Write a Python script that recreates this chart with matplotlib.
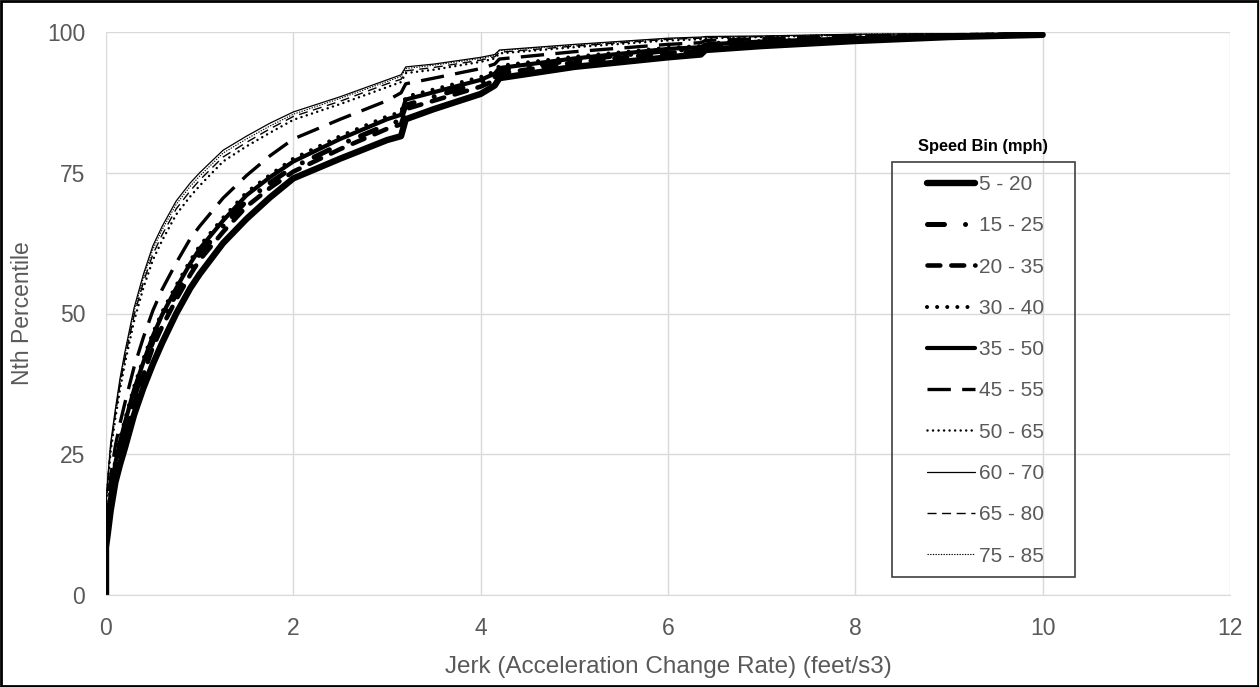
import matplotlib
matplotlib.use("Agg")
import matplotlib.pyplot as plt
from matplotlib.patches import Rectangle

plt.rcParams['font.family'] = ['Liberation Sans', 'DejaVu Sans']

# jerk values (feet/s3) at which the percentiles are read
jerk = [0, 0, 0.02, 0.05, 0.1, 0.15, 0.2, 0.3, 0.4, 0.5, 0.6, 0.75, 0.9, 1.0, 1.25, 1.5, 1.75,
        2.0, 2.5, 3.0, 3.15, 3.2, 3.5, 4.0, 4.15, 4.2, 5.0, 6.0, 6.35, 6.4, 7.0, 8.0, 9.0, 10.0]

pct_5_20 = [0, 8.5, 11, 15, 20, 23.2, 26, 32, 36.8, 41, 44.8, 50, 54.5, 57, 62.5, 66.8, 70.6,
            74, 77.5, 80.8, 81.5, 84.5, 86.3, 89, 90.5, 91.8, 93.8, 95.5, 96.0, 96.8, 97.5, 98.4, 99.1, 99.5]
pct_15_25 = [0, 10, 13.2, 17, 22, 25.8, 29, 35, 40.2, 45, 48.7, 53.5, 57.9, 60.5, 65.5, 70, 73.2,
             76, 80, 83.5, 84.3, 87, 88.5, 91, 92, 93.2, 95, 96.7, 97, 97.6, 98.1, 98.8, 99.3, 99.6]
pct_20_35 = [0, 9.5, 12.6, 16.5, 21.5, 25, 28, 34, 39.2, 44, 47.7, 52.5, 56.9, 59.5, 64.5, 69, 72.3,
             75.2, 79.2, 82.8, 83.6, 86.3, 87.8, 90.3, 91.4, 92.6, 94.6, 96.3, 96.6, 97.3, 97.9, 98.7, 99.2, 99.5]
pct_30_40 = [0, 11.5, 14.8, 19, 24, 27.8, 31, 37, 42, 46.5, 50.3, 55, 59.4, 62, 67, 71.5, 74.6,
             77.5, 81.5, 85, 85.8, 88.5, 89.8, 92, 93, 94, 95.6, 97.2, 97.5, 98, 98.4, 99, 99.4, 99.6]
pct_35_50 = [0, 10.5, 13.8, 18, 23.5, 27.2, 30.5, 36.5, 41.4, 46, 49.8, 54.5, 58.9, 61.5, 66.5, 71, 74.2,
             77, 81, 84.5, 85.3, 88, 89.3, 91.5, 92.6, 93.6, 95.3, 97, 97.3, 97.8, 98.3, 98.9, 99.3, 99.6]
pct_45_55 = [0, 12.5, 16.5, 21, 26.5, 30.5, 34, 40.5, 45.8, 50.5, 54.3, 59, 63.3, 65.5, 70.5, 74.5, 78,
             81, 84.5, 87.8, 89.2, 90.8, 91.8, 93.5, 94.3, 95.2, 96.5, 97.8, 98.1, 98.5, 98.8, 99.3, 99.5, 99.7]
pct_50_65 = [0, 15.1, 19.8, 25.6, 31.4, 36.6, 41.0, 48.7, 54.6, 59.5, 63.0, 67.6, 70.8, 72.7, 77.0, 79.7, 82.1,
             84.4, 87.2, 90.2, 91.1, 92.7, 93.3, 94.7, 95.3, 96.2, 97.3, 98.5, 98.7, 98.9, 99.1, 99.5, 99.6, 99.8]
pct_60_70 = [0, 16, 21, 27, 33, 38.5, 43, 51, 57, 62, 65.5, 70, 73.2, 75, 79, 81.5, 83.8,
             85.8, 88.5, 91.5, 92.4, 93.8, 94.3, 95.5, 96.0, 96.8, 97.8, 98.9, 99.1, 99.2, 99.3, 99.6, 99.7, 99.8]
pct_65_80 = [0, 15.5, 20.4, 26.2, 32.1, 37.4, 41.8, 49.7, 55.6, 60.5, 64.0, 68.6, 71.8, 73.7, 77.8, 80.4, 82.8,
             85.0, 87.7, 90.8, 91.6, 93.1, 93.7, 95.0, 95.6, 96.4, 97.5, 98.7, 98.9, 99.0, 99.2, 99.5, 99.7, 99.8]
pct_75_85 = [0, 15.8, 20.8, 26.6, 32.6, 38, 42.5, 50.4, 56.4, 61.4, 64.9, 69.4, 72.6, 74.4, 78.5, 81.0, 83.3,
             85.4, 88.2, 91.2, 92.1, 93.5, 94.1, 95.3, 95.8, 96.7, 97.7, 98.8, 99.0, 99.1, 99.2, 99.6, 99.7, 99.8]

bins = ['5 - 20', '15 - 25', '20 - 35', '30 - 40', '35 - 50',
        '45 - 55', '50 - 65', '60 - 70', '65 - 80', '75 - 85']
series = [pct_5_20, pct_15_25, pct_20_35, pct_30_40, pct_35_50,
          pct_45_55, pct_50_65, pct_60_70, pct_65_80, pct_75_85]

# (linewidth, dash pattern in units of linewidth, cap style)
styles = [
    (4.6, None, 'round'),
    (3.6, (0, (3.4, 4.2, 0.01, 2.6)), 'round'),
    (3.3, (0, (2.8, 2.4)), 'round'),
    (2.9, (0, (0.01, 2.5)), 'round'),
    (3.0, None, 'round'),
    (2.4, (0, (7.0, 3.4)), 'butt'),
    (1.8, (0, (0.01, 2.2)), 'round'),
    (0.9, None, 'butt'),
    (1.0, (0, (6.5, 4.0)), 'butt'),
    (0.8, (0, (1.2, 1.2)), 'butt'),
]

fig = plt.figure(figsize=(12.59, 6.87), dpi=100)
ax = fig.add_axes([106 / 1259, 1 - 595 / 687, 1124 / 1259, 563 / 687])

handles = []
for name, y, (lw, dash, cap) in zip(bins, series, styles):
    ls = '-' if dash is None else dash
    line, = ax.plot(jerk, y, color='black', lw=lw, linestyle=ls,
                    dash_capstyle=cap, solid_capstyle='round', label=name)
    handles.append(line)

ax.set_xlim(0, 12)
ax.set_ylim(0, 100)
ax.set_xticks(range(0, 13, 2))
ax.set_yticks([0, 25, 50, 75, 100])
ax.grid(True, color='#d9d9d9', lw=1.0)
ax.set_axisbelow(True)
for side in ['top', 'right', 'left']:
    ax.spines[side].set_visible(False)
ax.spines['bottom'].set_color('#d9d9d9')
ax.tick_params(length=0, labelsize=16.5, labelcolor='#595959', pad=16)
ax.tick_params(axis='y', pad=15)

ax.set_xlabel('Jerk (Acceleration Change Rate) (feet/s3)', fontsize=17.5, color='#595959', labelpad=11)
ax.set_ylabel('Nth Percentile', fontsize=16.5, color='#595959', va='center')
ax.yaxis.set_label_coords(-0.0747, 0.5)

# legend box with its title sitting just above it
fig.patches.append(Rectangle((892 / 1259, 1 - 577 / 687), 183 / 1259, 415 / 687,
                             transform=fig.transFigure, fill=False, ec='#404040', lw=1.2))
fig.text(983 / 1259, 1 - 147 / 687, 'Speed Bin (mph)', ha='center', va='center',
         fontsize=11.8, fontweight='bold', color='black')
leg = fig.legend(handles=handles, loc='upper left',
                 bbox_to_anchor=(927 / 1259, 1 - 175 / 687),
                 frameon=False, fontsize=15, labelspacing=1.07, handlelength=2.3,
                 handletextpad=0.2, borderpad=0, borderaxespad=0)
for t in leg.get_texts():
    t.set_color('#595959')

# outer frame around the whole figure
fig.patches.append(Rectangle((0.001, 0.001), 0.998, 0.998, transform=fig.transFigure,
                             fill=False, ec='black', lw=2))

fig.savefig('out.png', dpi=100)
